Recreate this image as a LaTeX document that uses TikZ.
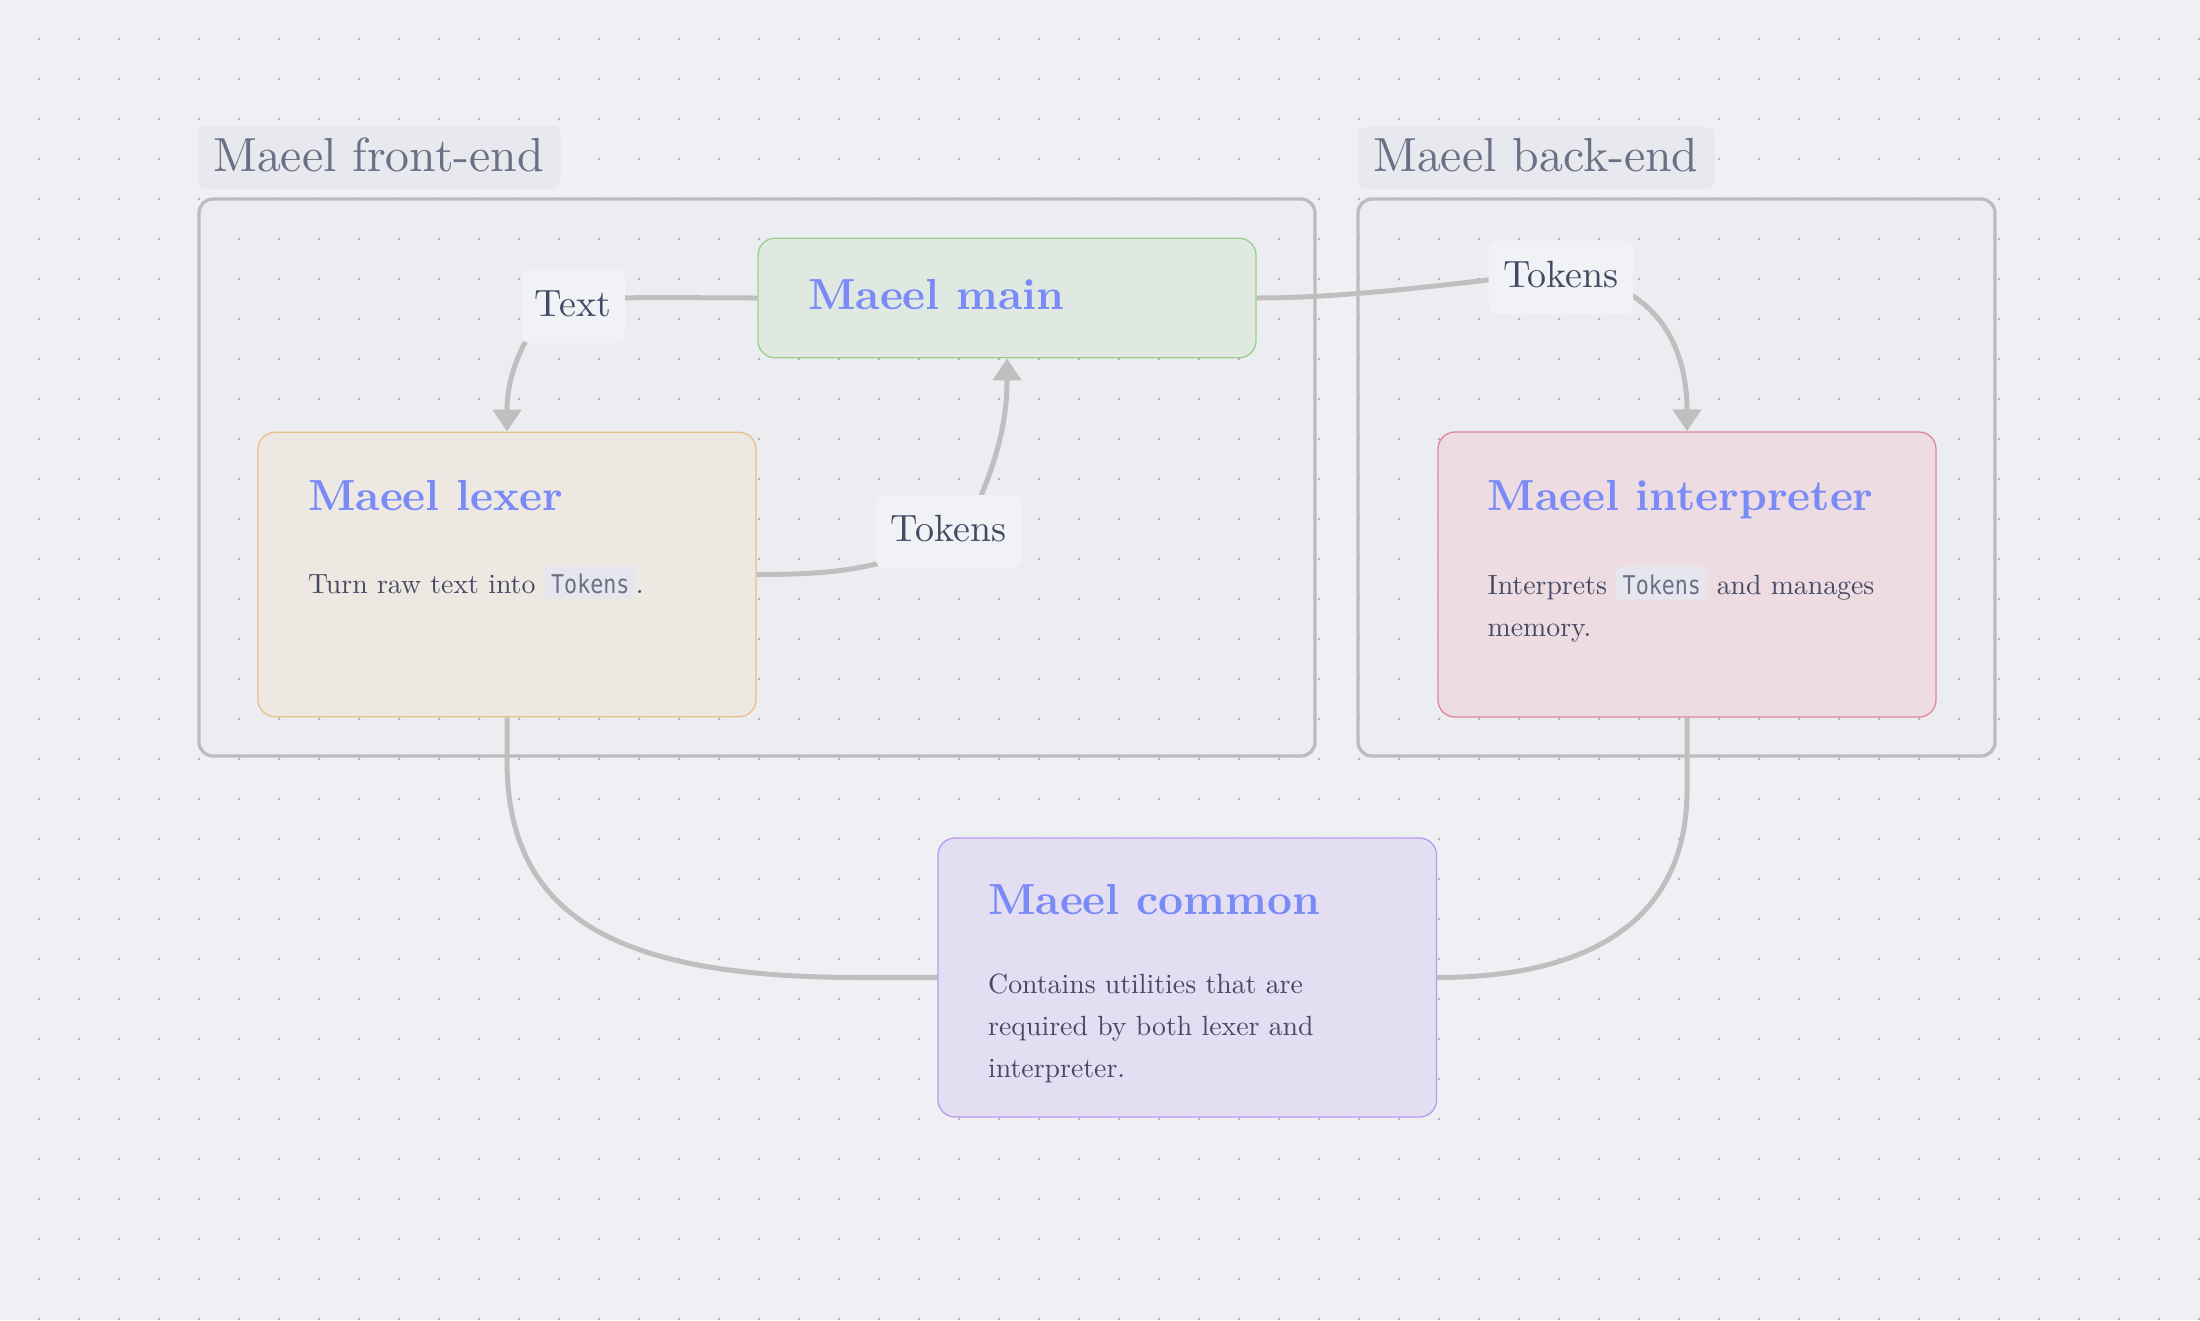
\documentclass[tikz,border=0pt]{standalone}
\usepackage{fontspec}
\setmainfont{lmroman10-regular.otf}[BoldFont=lmroman10-bold.otf]
\newfontfamily\codefont{DejaVu Sans Mono}[FakeStretch=0.84]
\usetikzlibrary{arrows.meta,calc}
\pgfdeclarelayer{back}
\pgfdeclarelayer{mid}
\pgfsetlayers{back,mid,main}
\definecolor{bgc}{RGB}{239,240,244}
\definecolor{dotc}{RGB}{175,177,190}
\definecolor{contline}{RGB}{188,188,190}
\definecolor{clabfill}{RGB}{232,233,238}
\definecolor{clabtextc}{RGB}{108,111,133}
\definecolor{elabfill}{RGB}{241,242,246}
\definecolor{textc}{RGB}{70,73,100}
\definecolor{titlec}{RGB}{122,139,247}
\definecolor{connc}{RGB}{191,191,191}
\definecolor{codefill}{RGB}{230,231,238}
\definecolor{codec}{RGB}{108,111,133}
\definecolor{mainfill}{RGB}{223,233,226}
\definecolor{maindraw}{RGB}{155,205,145}
\definecolor{lexfill}{RGB}{237,232,225}
\definecolor{lexdraw}{RGB}{232,193,135}
\definecolor{intfill}{RGB}{237,221,226}
\definecolor{intdraw}{RGB}{222,135,155}
\definecolor{comfill}{RGB}{227,222,242}
\definecolor{comdraw}{RGB}{183,155,240}
\tikzset{
  nodebox/.style={draw, line width=1.3pt, rounded corners=17pt, inner sep=0pt},
  cont/.style={draw=contline, fill=black, fill opacity=0.0125, draw opacity=1, line width=3.3pt, rounded corners=14pt, inner sep=0pt},
  clabel/.style={fill=clabfill, rounded corners=8pt, inner sep=0pt},
  clabtext/.style={anchor=base west, inner sep=0pt, text=clabtextc, font=\fontsize{47.8}{56}\selectfont},
  titletext/.style={anchor=base west, inner sep=0pt, text=titlec, font=\bfseries\fontsize{43.5}{52}\selectfont},
  bodytext/.style={anchor=base west, inner sep=0pt, text=textc, font=\fontsize{27.8}{42}\selectfont},
  elabel/.style={fill=elabfill, rounded corners=8pt, inner sep=0pt, text=textc, text height=26.4pt, text depth=6pt, font=\fontsize{38}{46}\selectfont},
  conn/.style={draw=connc, line width=5pt},
  arr/.style={-{Triangle[length=22pt,width=28pt]}},
  codebox/.style={fill=codefill, rounded corners=4pt, inner xsep=6.5pt, inner ysep=0pt, text height=27.7pt, text depth=5.3pt, text=codec, font=\codefont\fontsize{25.8}{30}\selectfont},
}
\newcommand\codeword[1]{\tikz[baseline=(cw.base)]\node[codebox,anchor=base] (cw) {#1};}
\begin{document}
\begin{tikzpicture}[x=1pt,y=-1pt]
\useasboundingbox (0,0) rectangle (2200,1320);
\begin{pgfonlayer}{back}
\fill[bgc] (0,0) rectangle (2200,1320);
\foreach \i in {0,...,55}{\foreach \j in {0,...,33}{\fill[dotc] ({\i*40-1},{\j*40-1}) circle (1.3);}}
\node[cont, minimum width=1116pt, minimum height=557pt] (fe) at (757,477.5) {};
\node[cont, minimum width=637pt, minimum height=557pt] (be) at (1676.5,477.5) {};
\end{pgfonlayer}
% container labels
\node[clabel, minimum width=362.6pt, minimum height=63pt] (fel) at (379.3,157.5) {};
\node[clabtext] (felt) at (213,171) {Maeel front-end};
\node[clabel, minimum width=357pt, minimum height=62pt] (bel) at (1536.5,158) {};
\node[clabtext] (belt) at (1373,171) {Maeel back-end};
% nodes
\node[nodebox, draw=maindraw, fill=mainfill, minimum width=498pt, minimum height=119.5pt] (main) at (1007,298) {};
\node[nodebox, draw=lexdraw, fill=lexfill, minimum width=498pt, minimum height=284.4pt] (lexer) at (507,574.5) {};
\node[nodebox, draw=intdraw, fill=intfill, minimum width=498pt, minimum height=285pt] (interp) at (1687,574.5) {};
\node[nodebox, draw=comdraw, fill=comfill, minimum width=498.5pt, minimum height=279pt] (common) at (1187.25,977.5) {};
\node[titletext] (maint) at (808,309) {Maeel main};
\node[titletext] (lext) at (308,510) {Maeel lexer};
\node[titletext] (intt) at (1487.5,510.5) {Maeel interpreter};
\node[titletext] (comt) at (988,914) {Maeel common};
\node[bodytext] (lexb) at (308,593.5) {Turn raw text into \codeword{Tokens}.};
\node[bodytext] (intb1) at (1487.5,594.4) {Interprets \codeword{Tokens} and manages};
\node[bodytext] (intb2) at (1487.5,636.6) {memory.};
\node[bodytext] (comb1) at (988,993) {Contains utilities that are};
\node[bodytext] (comb2) at (988,1035) {required by both lexer and};
\node[bodytext] (comb3) at (988,1077) {interpreter.};
% edge labels
\node[elabel, minimum width=103.7pt, minimum height=73.7pt] (tx) at (572.9,305.9) {Text};
\node[elabel, minimum width=145pt, minimum height=73pt] (tk1) at (948.5,531.5) {Tokens};
\node[elabel, minimum width=144.5pt, minimum height=73.5pt] (tk2) at (1560.8,277.3) {Tokens};
% connectors
\begin{pgfonlayer}{mid}
\draw[conn] (main.west) .. controls (700,298) and (660,297) .. ([xshift=-3pt]tx.east |- main.west);
\draw[conn,arr] ([xshift=6pt,yshift=4pt]tx.south west) .. controls (511,368) and (507,392) .. (lexer.north);
\draw[conn] (lexer.east) .. controls (825,574.5) and (850,570) .. ([xshift=4pt,yshift=5pt]tk1.south west);
\draw[conn,arr] ([xshift=-41pt,yshift=-3pt]tk1.north east) .. controls (998,455) and (1007,420) .. (main.south);
\draw[conn] (main.east) .. controls (1330,298) and (1410,289) .. ([xshift=3pt,yshift=-2.3pt]tk2.west);
\draw[conn,arr] ([xshift=-3pt,yshift=20pt]tk2.south east) .. controls (1675,322) and (1687,370) .. (interp.north);
\coordinate (l1) at (507,760);
\coordinate (l2) at (860,977.5);
\draw[conn] (lexer.south) -- (l1) .. controls +(0,160) and +(-240,0) .. (l2) -- (common.west);
\coordinate (r1) at (1687,790);
\draw[conn] (interp.south) -- (r1) .. controls +(0,130) and +(153,0) .. (common.east);
\end{pgfonlayer}
\end{tikzpicture}
\end{document}
